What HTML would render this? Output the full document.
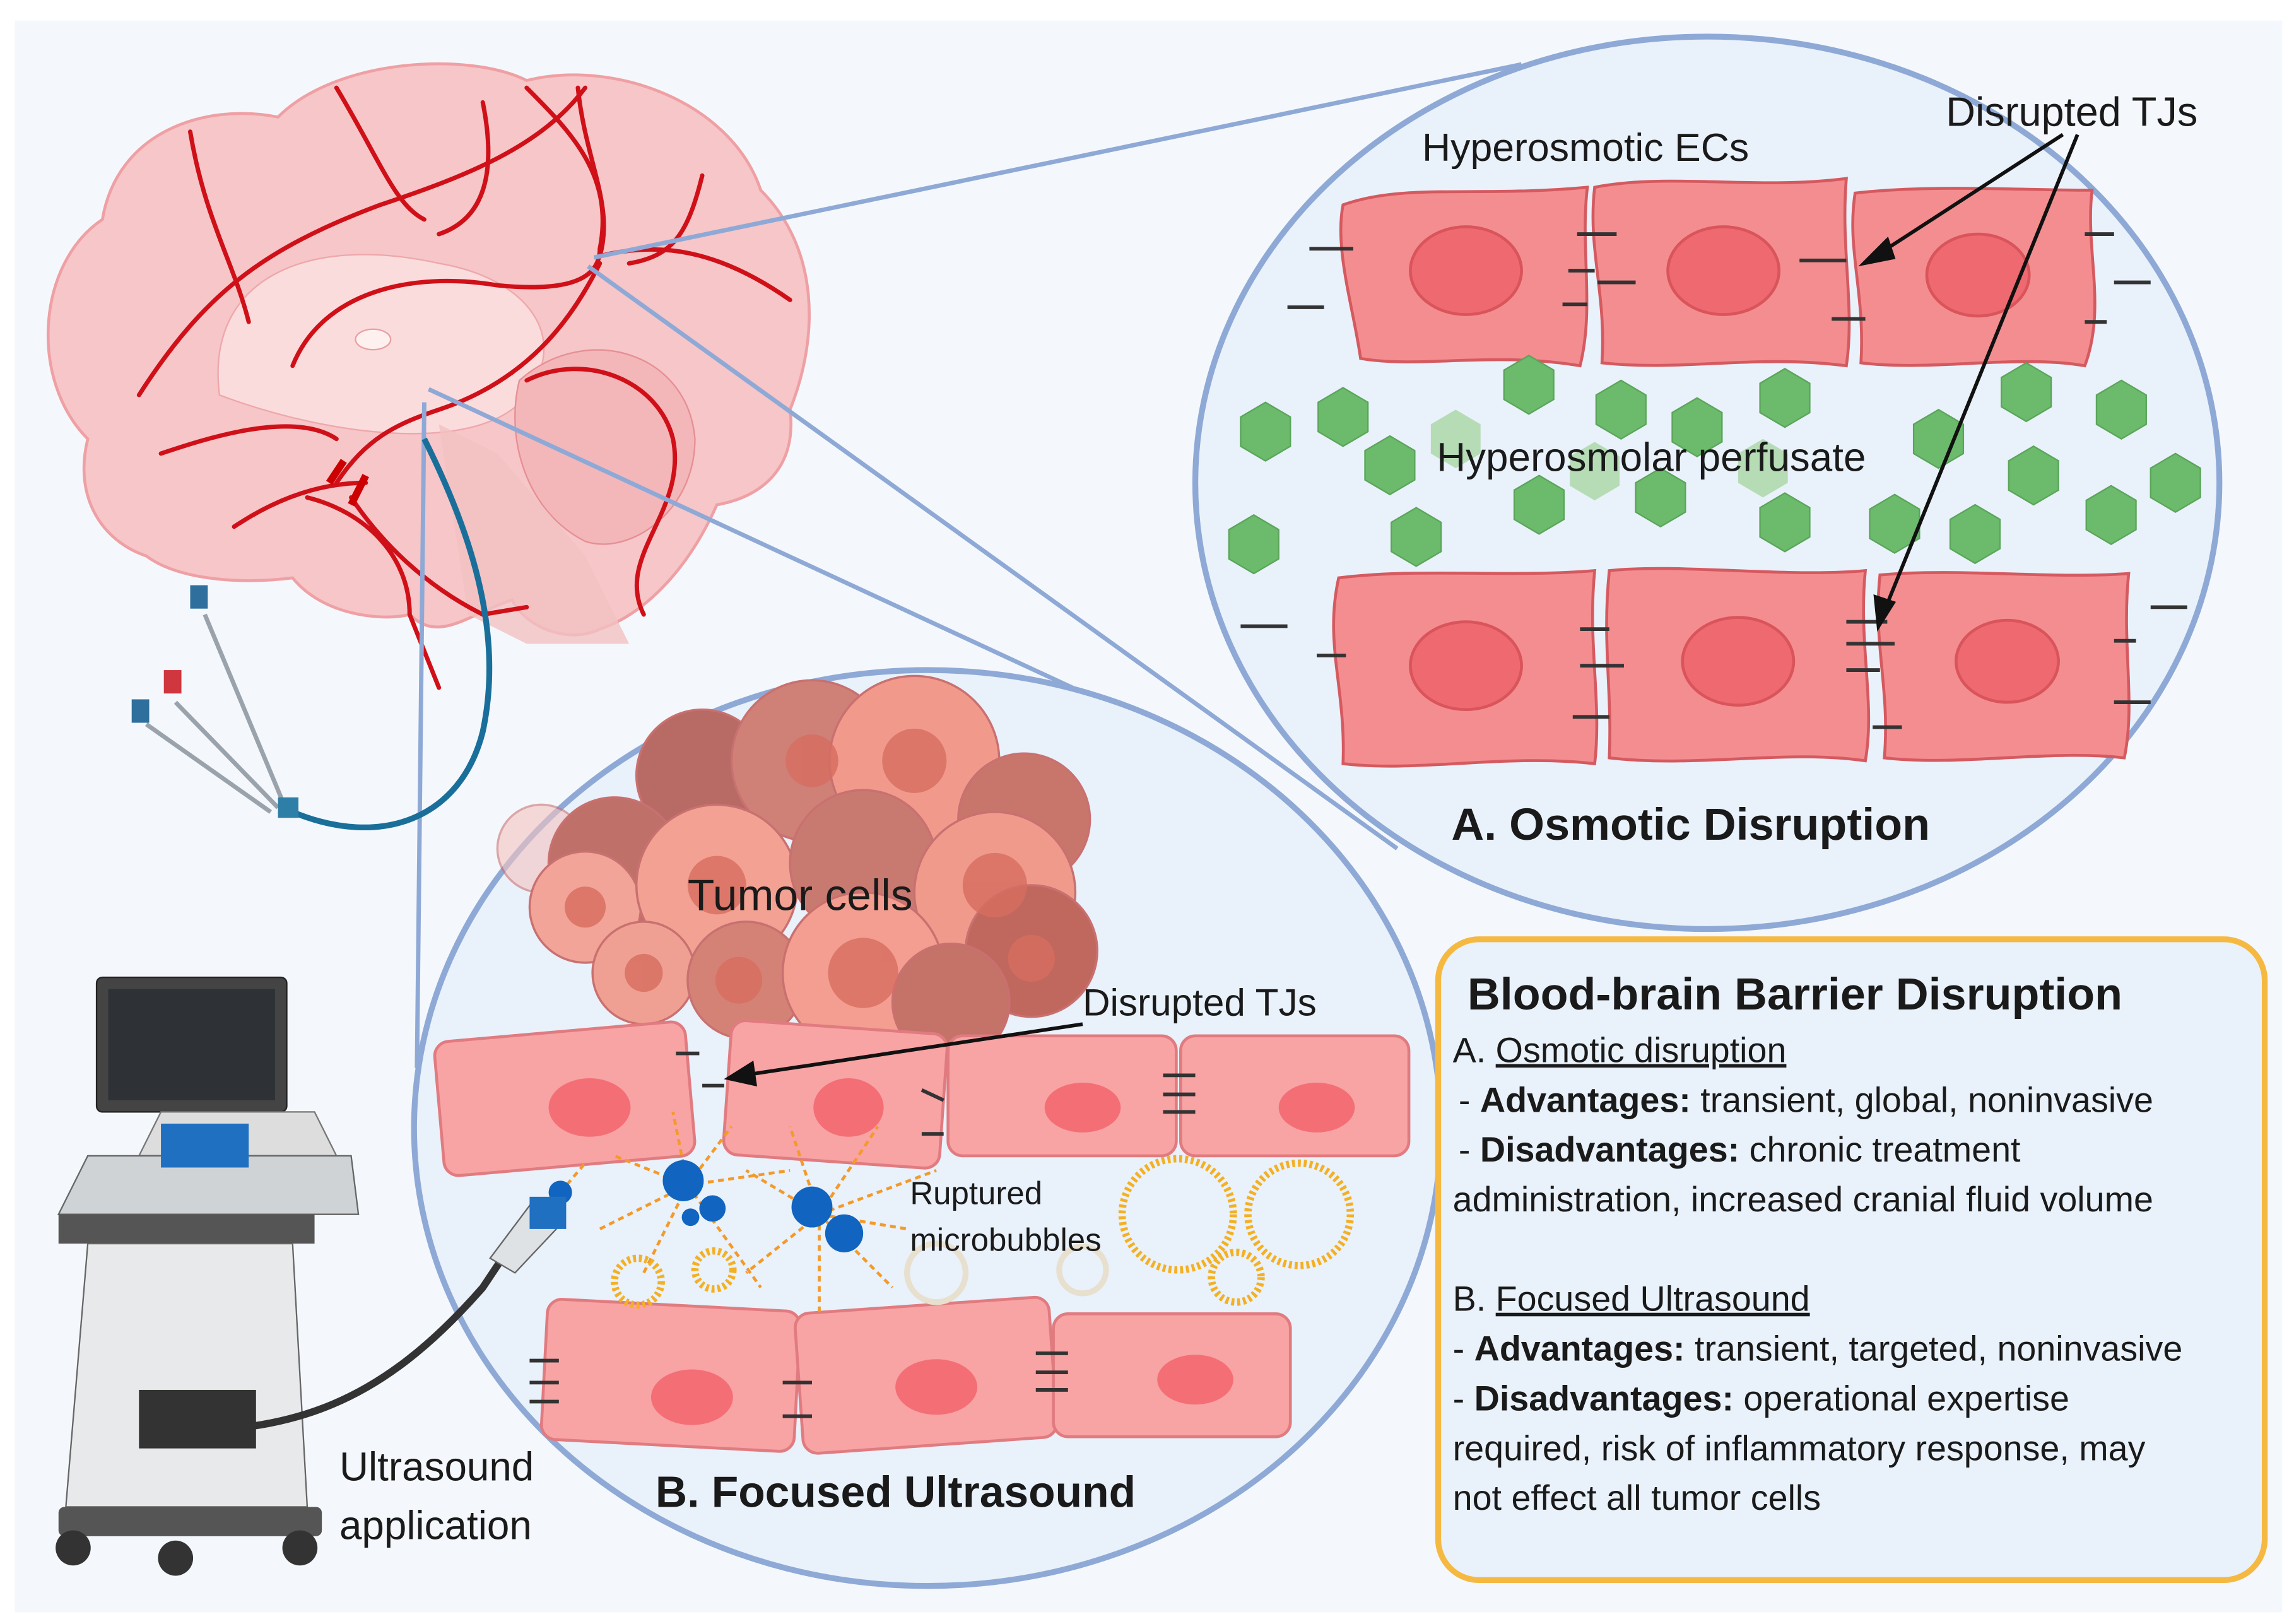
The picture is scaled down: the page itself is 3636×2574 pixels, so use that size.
<!DOCTYPE html>
<html><head><meta charset="utf-8"><style>
html,body{margin:0;padding:0;background:#fff}
svg{display:block}
text{font-family:"Liberation Sans",sans-serif;fill:#1a1a1a}
</style></head><body>
<svg width="3636" height="2574" viewBox="0 0 1568 1110" xmlns="http://www.w3.org/2000/svg">
<defs>
<g id="hex"><polygon points="0,-20 17,-10 17,10 0,20 -17,10 -17,-10" fill="#6cbb6c" stroke="#5aa55a" stroke-width="1"/></g>
<g id="hexl"><polygon points="0,-20 17,-10 17,10 0,20 -17,10 -17,-10" fill="#b6dcb6"/></g>
</defs>
<rect x="10" y="14" width="1550" height="1088" fill="#f4f8fc"/>

<!-- brain -->
<g>
<path d="M60,300 C20,260 25,180 70,150 C80,90 140,70 190,80 C230,40 320,35 360,55 C420,40 500,70 520,130 C560,170 560,230 540,280 C545,320 520,340 490,345 C470,390 440,420 410,430 C390,440 360,430 350,410 C320,420 300,440 280,420 C260,425 220,420 200,395 C160,400 120,395 100,380 C70,370 50,340 60,300 Z" fill="#f6c6c8" stroke="#efa0a4" stroke-width="2"/>
<path d="M150,270 C140,190 210,160 300,180 C360,190 390,230 360,270 C330,310 230,300 150,270 Z" fill="#fbdcdd" stroke="#eea7aa"/>
<ellipse cx="255" cy="232" rx="12" ry="7" fill="#fff0f0" stroke="#e9a0a3"/>
<path d="M355,260 C400,220 470,240 475,300 C475,350 430,380 400,370 C360,350 345,300 355,260 Z" fill="#f3b7ba" stroke="#e58f94"/>
<path d="M300,290 L320,420 L360,440 L430,440 L400,380 L340,310 Z" fill="#f2c0c2" opacity="0.8"/>
<g fill="none" stroke="#d01018" stroke-width="3" stroke-linecap="round">
<path d="M110,310 C140,300 200,280 230,300"/>
<path d="M95,270 C140,200 180,170 260,140 C320,120 370,100 400,60"/>
<path d="M200,250 C220,200 280,185 340,195 C390,200 410,190 410,170 C420,120 390,90 360,60"/>
<path d="M410,175 C420,140 400,110 395,60"/>
<path d="M410,175 C450,165 490,170 540,205"/>
<path d="M410,180 C390,220 360,260 300,280 C270,290 250,300 230,330"/>
<path d="M360,260 C400,240 450,260 460,300 C470,350 420,380 440,420"/>
<path d="M240,340 C260,370 290,400 330,420 L360,415"/>
<path d="M210,340 C250,350 280,380 280,420 L300,470"/>
<path d="M160,360 C190,340 220,330 250,330"/>
<path d="M130,90 C140,150 160,180 170,220"/>
<path d="M230,60 C260,110 270,140 290,150"/>
<path d="M330,70 C340,120 330,150 300,160"/>
<path d="M480,120 C470,160 460,175 430,180"/>
</g>
<path d="M225,330 L235,315 M240,345 L250,325" stroke="#c00" stroke-width="5"/>
</g>

<!-- connector lines -->
<g stroke="#8fa9d6" stroke-width="3" fill="none">
<line x1="406" y1="176" x2="1040" y2="44"/>
<line x1="402" y1="182" x2="955" y2="580"/>
<line x1="293" y1="266" x2="830" y2="515"/>
<line x1="290" y1="275" x2="285" y2="730"/>
</g>

<!-- catheter -->
<path d="M290,300 C320,360 345,430 330,500 C315,560 260,580 200,555" fill="none" stroke="#1a6f9a" stroke-width="4"/>
<g stroke="#9aa3ab" stroke-width="3" fill="none">
<path d="M195,552 L140,420"/><path d="M190,552 L120,480"/><path d="M185,555 L100,495"/>
</g>
<rect x="130" y="400" width="12" height="16" fill="#2e6f9d"/><rect x="112" y="458" width="12" height="16" fill="#d0363e"/><rect x="90" y="478" width="12" height="16" fill="#2e6f9d"/>
<rect x="190" y="545" width="14" height="14" fill="#2e7fa8"/>

<!-- circle A -->
<ellipse cx="1167" cy="330" rx="350" ry="305" fill="#e9f1fa" stroke="#8fa9d6" stroke-width="4"/>
<g fill="#f48d8f" stroke="#d45a60" stroke-width="2">
<path d="M918,140 C960,125 1010,135 1085,128 C1080,170 1090,210 1080,250 C1020,240 970,252 930,245 C925,210 912,170 918,140Z"/>
<path d="M1090,128 C1140,118 1200,130 1262,122 C1258,170 1268,210 1262,250 C1200,242 1150,254 1095,248 C1098,200 1085,170 1090,128Z"/>
<path d="M1268,132 C1320,126 1380,130 1430,130 C1425,170 1440,210 1425,250 C1380,242 1320,254 1272,248 C1275,200 1262,170 1268,132Z"/>
<path d="M915,395 C970,388 1030,395 1090,390 C1085,440 1095,480 1090,522 C1030,515 970,528 918,522 C920,470 905,440 915,395Z"/>
<path d="M1100,390 C1150,385 1220,395 1275,390 C1270,440 1282,480 1275,520 C1220,512 1160,525 1100,518 C1102,470 1095,440 1100,390Z"/>
<path d="M1285,393 C1340,388 1400,396 1455,392 C1450,440 1460,480 1452,518 C1400,512 1340,524 1288,518 C1292,470 1280,440 1285,393Z"/>
</g>
<g fill="#ef6970" stroke="#d9545b" stroke-width="2">
<ellipse cx="1002" cy="185" rx="38" ry="30"/><ellipse cx="1178" cy="185" rx="38" ry="30"/><ellipse cx="1352" cy="188" rx="35" ry="28"/>
<ellipse cx="1002" cy="455" rx="38" ry="30"/><ellipse cx="1188" cy="452" rx="38" ry="30"/><ellipse cx="1372" cy="452" rx="35" ry="28"/>
</g>
<g stroke="#333" stroke-width="2.5">
<line x1="895" y1="170" x2="925" y2="170"/><line x1="880" y1="210" x2="905" y2="210"/>
<line x1="1078" y1="160" x2="1105" y2="160"/><line x1="1072" y1="185" x2="1090" y2="185"/><line x1="1092" y1="193" x2="1118" y2="193"/><line x1="1068" y1="208" x2="1085" y2="208"/>
<line x1="1230" y1="178" x2="1262" y2="178"/><line x1="1252" y1="218" x2="1275" y2="218"/><line x1="1425" y1="160" x2="1445" y2="160"/><line x1="1445" y1="193" x2="1470" y2="193"/><line x1="1425" y1="220" x2="1440" y2="220"/>
<line x1="848" y1="428" x2="880" y2="428"/><line x1="900" y1="448" x2="920" y2="448"/>
<line x1="1080" y1="430" x2="1100" y2="430"/><line x1="1080" y1="455" x2="1110" y2="455"/><line x1="1075" y1="490" x2="1100" y2="490"/>
<line x1="1262" y1="425" x2="1290" y2="425"/><line x1="1262" y1="440" x2="1295" y2="440"/><line x1="1262" y1="458" x2="1285" y2="458"/><line x1="1280" y1="497" x2="1300" y2="497"/>
<line x1="1470" y1="415" x2="1495" y2="415"/><line x1="1445" y1="438" x2="1460" y2="438"/><line x1="1445" y1="480" x2="1470" y2="480"/>
</g>
<g>
<use href="#hex" x="865" y="295"/><use href="#hex" x="918" y="285"/><use href="#hex" x="950" y="318"/><use href="#hex" x="857" y="372"/><use href="#hex" x="968" y="367"/>
<use href="#hex" x="1045" y="263"/><use href="#hex" x="1108" y="280"/><use href="#hex" x="1160" y="292"/><use href="#hex" x="1220" y="272"/><use href="#hex" x="1052" y="345"/><use href="#hex" x="1135" y="340"/><use href="#hex" x="1220" y="357"/>
<use href="#hex" x="1295" y="358"/><use href="#hex" x="1350" y="365"/><use href="#hex" x="1385" y="268"/><use href="#hex" x="1450" y="280"/><use href="#hex" x="1390" y="325"/><use href="#hex" x="1443" y="352"/><use href="#hex" x="1487" y="330"/><use href="#hex" x="1325" y="300"/>
<use href="#hexl" x="995" y="300"/><use href="#hexl" x="1090" y="322"/><use href="#hexl" x="1205" y="320"/>
</g>
<text x="972" y="110" font-size="27">Hyperosmotic ECs</text>
<text x="1330" y="86" font-size="28">Disrupted TJs</text>
<text x="982" y="322" font-size="27.5">Hyperosmolar perfusate</text>
<g stroke="#111" stroke-width="2.5" fill="#111">
<line x1="1410" y1="92" x2="1282" y2="175"/><polygon points="1274,180 1290,164 1294,176"/>
<line x1="1420" y1="92" x2="1287" y2="420"/><polygon points="1284,428 1282,408 1294,412"/>
</g>
<text x="992" y="574" font-size="31" font-weight="bold">A. Osmotic Disruption</text>

<!-- circle B -->
<ellipse cx="634" cy="771" rx="351" ry="313" fill="#e9f1fa" stroke="#8fa9d6" stroke-width="4"/>
<g stroke="#c97070" stroke-width="1.5">
<circle cx="370" cy="580" r="30" fill="#f4c3c0" opacity="0.6"/>
<circle cx="480" cy="530" r="45" fill="#b86a64"/><circle cx="555" cy="520" r="55" fill="#cf8077"/>
<circle cx="625" cy="520" r="58" fill="#f19a8c"/><circle cx="700" cy="560" r="45" fill="#c8766c"/>
<circle cx="420" cy="590" r="45" fill="#bf7068"/><circle cx="400" cy="620" r="38" fill="#f1a497"/>
<circle cx="490" cy="605" r="55" fill="#f2a193"/><circle cx="590" cy="590" r="50" fill="#c97a70"/>
<circle cx="680" cy="610" r="55" fill="#f09a8c"/><circle cx="705" cy="650" r="45" fill="#c0685e"/>
<circle cx="440" cy="665" r="35" fill="#f0a092"/><circle cx="510" cy="670" r="40" fill="#d58276"/>
<circle cx="590" cy="665" r="55" fill="#f39e90"/><circle cx="650" cy="685" r="40" fill="#c57268"/>
</g>
<g fill="#d76d60" opacity="0.8">
<circle cx="625" cy="520" r="22"/><circle cx="555" cy="520" r="18"/><circle cx="490" cy="605" r="20"/><circle cx="680" cy="605" r="22"/><circle cx="590" cy="665" r="24"/><circle cx="400" cy="620" r="14"/><circle cx="440" cy="665" r="13"/><circle cx="705" cy="655" r="16"/><circle cx="505" cy="670" r="16"/>
</g>
<text x="470" y="622" font-size="30">Tumor cells</text>
<g fill="#f8a3a4" stroke="#e07b80" stroke-width="2">
<rect x="300" y="705" width="172" height="92" rx="10" transform="rotate(-5 386 751)"/>
<rect x="497" y="702" width="148" height="92" rx="10" transform="rotate(4 571 748)"/>
<rect x="648" y="708" width="156" height="82" rx="10"/>
<rect x="807" y="708" width="156" height="82" rx="10"/>
<rect x="372" y="892" width="173" height="96" rx="10" transform="rotate(3 458 940)"/>
<rect x="546" y="892" width="174" height="96" rx="10" transform="rotate(-4 633 940)"/>
<rect x="720" y="898" width="162" height="84" rx="10"/>
</g>
<g fill="#f46e76">
<ellipse cx="403" cy="757" rx="28" ry="20"/><ellipse cx="580" cy="757" rx="24" ry="20"/><ellipse cx="740" cy="757" rx="26" ry="17"/><ellipse cx="900" cy="757" rx="26" ry="17"/>
<ellipse cx="473" cy="955" rx="28" ry="19"/><ellipse cx="640" cy="948" rx="28" ry="19"/><ellipse cx="817" cy="943" rx="26" ry="17"/>
</g>
<g stroke="#333" stroke-width="2.5">
<line x1="462" y1="720" x2="478" y2="720"/><line x1="480" y1="742" x2="495" y2="742"/><line x1="630" y1="745" x2="645" y2="752"/><line x1="630" y1="775" x2="645" y2="775"/>
<line x1="795" y1="735" x2="817" y2="735"/><line x1="795" y1="748" x2="817" y2="748"/><line x1="795" y1="760" x2="817" y2="760"/>
<line x1="362" y1="930" x2="382" y2="930"/><line x1="362" y1="945" x2="382" y2="945"/><line x1="362" y1="958" x2="382" y2="958"/>
<line x1="535" y1="945" x2="555" y2="945"/><line x1="535" y1="968" x2="555" y2="968"/>
<line x1="708" y1="925" x2="730" y2="925"/><line x1="708" y1="938" x2="730" y2="938"/><line x1="708" y1="950" x2="730" y2="950"/>
</g>
<text x="740" y="694" font-size="26">Disrupted TJs</text>
<g stroke="#111" stroke-width="2.5" fill="#111"><line x1="740" y1="700" x2="508" y2="735"/><polygon points="498,737 514,727 516,741"/></g>
<!-- microbubbles -->
<g stroke="#f39a2a" stroke-width="2" stroke-dasharray="4,3" fill="none">
<path d="M470,810 L420,790 M470,810 L460,760 M470,810 L500,770 M470,810 L410,840 M470,810 L440,870 M470,810 L520,880 M470,810 L540,800"/>
<path d="M560,830 L540,770 M560,830 L600,770 M560,830 L620,840 M560,830 L610,880 M560,830 L560,900 M560,830 L510,870 M560,830 L510,800 M560,830 L640,800"/>
<path d="M383,815 L360,830 M383,815 L400,795"/>
</g>
<g fill="#1164c0"><circle cx="383" cy="815" r="8"/><circle cx="467" cy="807" r="14"/><circle cx="487" cy="826" r="9"/><circle cx="472" cy="832" r="6"/><circle cx="555" cy="825" r="14"/><circle cx="577" cy="843" r="13"/></g>
<g fill="none" stroke="#f4b023" stroke-width="5" stroke-dasharray="2,2">
<circle cx="805" cy="830" r="38"/><circle cx="888" cy="830" r="35"/><circle cx="845" cy="873" r="17"/><circle cx="436" cy="876" r="16"/><circle cx="488" cy="868" r="13"/>
</g>
<g fill="none" stroke="#e8e0cf" stroke-width="4"><circle cx="640" cy="870" r="20"/><circle cx="740" cy="868" r="16"/></g>
<text x="622" y="823" font-size="22">Ruptured</text>
<text x="622" y="855" font-size="22">microbubbles</text>
<text x="448" y="1030" font-size="30" font-weight="bold">B. Focused Ultrasound</text>

<!-- ultrasound machine -->
<g>
<rect x="66" y="668" width="130" height="92" rx="4" fill="#444" stroke="#222"/>
<rect x="74" y="676" width="114" height="76" fill="#2e3236"/>
<path d="M110,760 L95,790 L230,790 L215,760 Z" fill="#ddd" stroke="#777"/>
<path d="M60,790 L240,790 L245,830 L40,830 Z" fill="#cfd3d6" stroke="#666"/>
<rect x="110" y="768" width="60" height="30" fill="#1f70c0"/>
<path d="M40,830 L215,830 L215,850 L40,850Z" fill="#555"/>
<path d="M60,850 L200,850 L210,1030 L45,1030 Z" fill="#e8e9ea" stroke="#666"/>
<rect x="95" y="950" width="80" height="40" fill="#333"/>
<rect x="40" y="1030" width="180" height="20" rx="4" fill="#555"/>
<circle cx="50" cy="1058" r="12" fill="#333"/><circle cx="120" cy="1065" r="12" fill="#333"/><circle cx="205" cy="1058" r="12" fill="#333"/>
<path d="M110,978 C200,980 260,960 330,880 L350,850" fill="none" stroke="#333" stroke-width="5"/>
<path d="M335,860 L365,820 L385,835 L352,870Z" fill="#dfe2e5" stroke="#666"/>
<rect x="362" y="818" width="25" height="22" fill="#1f70c0"/>
</g>
<text x="232" y="1012" font-size="27.5">Ultrasound</text>
<text x="232" y="1052" font-size="27.5">application</text>

<!-- text box -->
<rect x="983" y="642" width="565" height="438" rx="28" fill="#e9f1fa" stroke="#f5b942" stroke-width="4"/>
<g font-size="24">
<text x="1003" y="690" font-size="31" font-weight="bold">Blood-brain Barrier Disruption</text>
<text x="993" y="726">A. <tspan text-decoration="underline">Osmotic disruption</tspan></text>
<text x="997" y="760"> - <tspan font-weight="bold">Advantages:</tspan> transient, global, noninvasive</text>
<text x="997" y="794"> - <tspan font-weight="bold">Disadvantages:</tspan> chronic treatment</text>
<text x="993" y="828">administration, increased cranial fluid volume</text>
<text x="993" y="896">B. <tspan text-decoration="underline">Focused Ultrasound</tspan></text>
<text x="993" y="930">- <tspan font-weight="bold">Advantages:</tspan> transient, targeted, noninvasive</text>
<text x="993" y="964">- <tspan font-weight="bold">Disadvantages:</tspan> operational expertise</text>
<text x="993" y="998">required, risk of inflammatory response, may</text>
<text x="993" y="1032">not effect all tumor cells</text>
</g>
</svg>
</body></html>
